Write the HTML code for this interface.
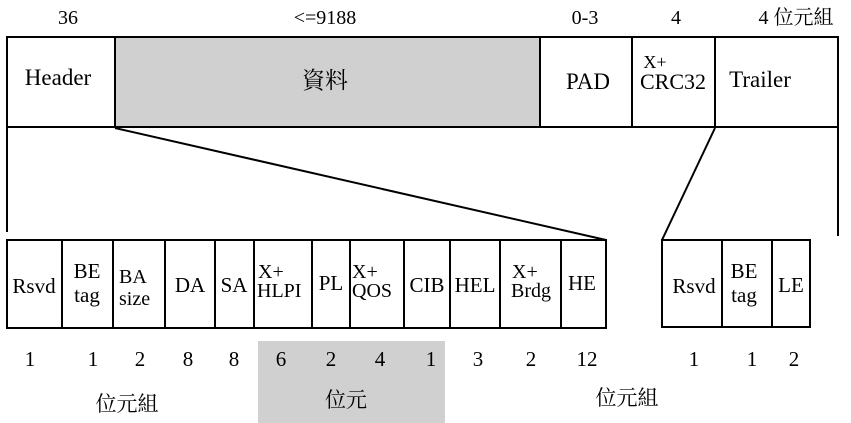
<!DOCTYPE html>
<html><head><meta charset="utf-8"><style>body{margin:0;background:#fff}svg{display:block}text{font-family:"Liberation Serif","Noto Serif CJK SC",serif;fill:#000}</style></head><body>
<svg width="851" height="423" viewBox="0 0 851 423" xmlns="http://www.w3.org/2000/svg">
<rect x="116" y="38" width="424" height="88" fill="#d0d0d0"/>
<rect x="258" y="341" width="187" height="82" fill="#d0d0d0"/>
<g stroke="#000" stroke-width="2" fill="none">
<rect x="7" y="37" width="831" height="90"/>
<line x1="115" y1="37" x2="115" y2="127"/><line x1="540" y1="37" x2="540" y2="127"/>
<line x1="632" y1="37" x2="632" y2="127"/><line x1="715" y1="37" x2="715" y2="127"/>
<line x1="7" y1="127" x2="7" y2="232"/><line x1="115" y1="128" x2="606" y2="240"/>
<line x1="715" y1="128" x2="662" y2="240"/><line x1="838" y1="127" x2="838" y2="236"/>
<rect x="7" y="240" width="599" height="88"/>
<line x1="62" y1="240" x2="62" y2="328"/><line x1="113" y1="240" x2="113" y2="328"/>
<line x1="165" y1="240" x2="165" y2="328"/><line x1="215" y1="240" x2="215" y2="328"/>
<line x1="254" y1="240" x2="254" y2="328"/><line x1="312" y1="240" x2="312" y2="328"/>
<line x1="350" y1="240" x2="350" y2="328"/><line x1="404" y1="240" x2="404" y2="328"/>
<line x1="450" y1="240" x2="450" y2="328"/><line x1="500" y1="240" x2="500" y2="328"/>
<line x1="561" y1="240" x2="561" y2="328"/>
<rect x="662" y="240" width="148" height="87"/>
<line x1="722" y1="240" x2="722" y2="327"/><line x1="772" y1="240" x2="772" y2="327"/>
</g>
<g font-size="20" text-anchor="middle">
<text x="68" y="24">36</text><text x="325" y="24">&lt;=9188</text><text x="585" y="24">0-3</text>
<text x="676" y="24">4</text><text x="796" y="24">4 位元組</text>
</g>
<g font-size="23" text-anchor="middle">
<text x="58" y="85">Header</text><text x="325" y="88">資料</text><text x="588" y="89">PAD</text>
<text x="655" y="68" font-size="18">X+</text><text x="673" y="89" font-size="22">CRC32</text><text x="760" y="87">Trailer</text>
</g>
<g font-size="21" text-anchor="middle">
<text x="34" y="293">Rsvd</text>
<text x="87" y="278">BE</text><text x="87" y="302">tag</text>
<text x="190" y="292">DA</text><text x="234" y="292">SA</text>
<text x="331" y="290">PL</text><text x="427" y="292">CIB</text><text x="475" y="292">HEL</text>
<text x="582" y="290">HE</text>
<text x="694" y="293">Rsvd</text><text x="744" y="278">BE</text><text x="744" y="302">tag</text><text x="791" y="292">LE</text>
</g>
<g font-size="20">
<text x="119" y="283">BA</text><text x="119" y="305">size</text>
<text x="258" y="278">X+</text><text x="257" y="297">HLPI</text>
<text x="352" y="278">X+</text><text x="352" y="297">QOS</text>
<text x="512" y="278">X+</text><text x="511" y="297">Brdg</text>
</g>
<g font-size="21" text-anchor="middle">
<text x="30" y="366">1</text><text x="93" y="366">1</text><text x="140" y="366">2</text><text x="188" y="366">8</text>
<text x="234" y="366">8</text><text x="281" y="366">6</text><text x="331" y="366">2</text><text x="380" y="366">4</text>
<text x="431" y="366">1</text><text x="478" y="366">3</text><text x="531" y="366">2</text><text x="587" y="366">12</text>
<text x="694" y="366">1</text><text x="752" y="366">1</text><text x="794" y="366">2</text>
<text x="127" y="411">位元組</text><text x="346" y="407">位元</text><text x="627" y="405">位元組</text>
</g>
</svg>
</body></html>
